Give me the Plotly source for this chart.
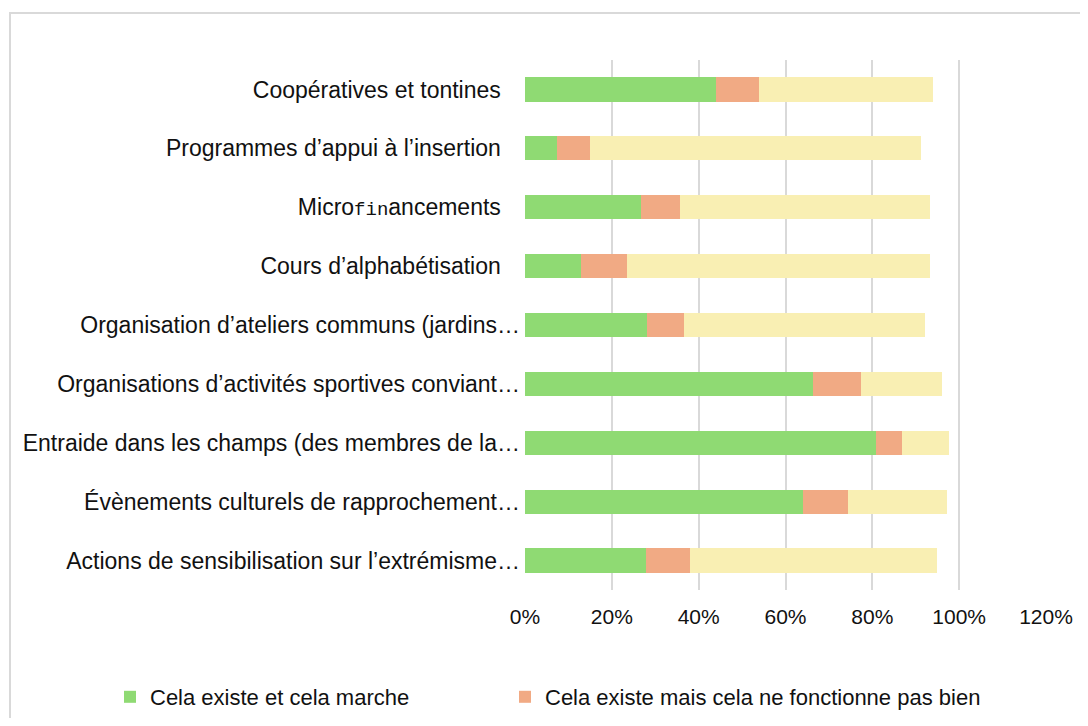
import plotly.graph_objects as go

categories = [
    "Coopératives et tontines\u00a0\u00a0\u00a0",
    "Programmes d’appui à l’insertion\u00a0\u00a0\u00a0",
    "Micro<span style='font-family:Liberation Mono;font-size:19px'>fin</span>ancements\u00a0\u00a0\u00a0",
    "Cours d’alphabétisation\u00a0\u00a0\u00a0",
    "Organisation d’ateliers communs (jardins…",
    "Organisations d’activités sportives conviant…",
    "Entraide dans les champs (des membres de la…",
    "Évènements culturels de rapprochement…",
    "Actions de sensibilisation sur l’extrémisme…",
]

series_names = [
    "Cela existe et cela marche",
    "Cela existe mais cela ne fonctionne pas bien",
    "Cela n’existe pas",
]
green_vals = [0.439, 0.074, 0.267, 0.129, 0.280, 0.663, 0.809, 0.641, 0.278]
orange_vals = [0.099, 0.075, 0.089, 0.105, 0.086, 0.112, 0.060, 0.104, 0.101]
yellow_vals = [0.402, 0.764, 0.577, 0.699, 0.556, 0.186, 0.108, 0.227, 0.570]

colors = ["#8FDA73", "#F1AA84", "#F9EFB3"]
tick_vals = [0, 0.2, 0.4, 0.6, 0.8, 1.0, 1.2]
tick_text = ["0%", "20%", "40%", "60%", "80%", "100%", "120%"]

W, H = 1072, 710
L, T = 517, 52
R = W - 1038
B = H - 582
pw = W - L - R
ph = H - T - B
fx = lambda px: (px - L) / pw
fy = lambda py: 1 - (py - T) / ph

fig = go.Figure()
legend_ids = ["legend", "legend2", None]
for name, vals, col, lg in zip(series_names, [green_vals, orange_vals, yellow_vals], colors, legend_ids):
    fig.add_trace(go.Bar(
        y=categories, x=vals, name=name, orientation="h",
        marker=dict(color=col, line=dict(width=0)),
        showlegend=lg is not None,
        legend=lg if lg else "legend",
    ))

legend_common = dict(
    orientation="h", xref="container", yref="container",
    y=1 - 689 / H, xanchor="left", yanchor="middle",
    font=dict(size=22, color="#111"), itemwidth=30,
    bgcolor="rgba(0,0,0,0)",
)

fig.update_layout(
    width=W, height=H,
    barmode="stack",
    bargap=0.59,
    margin=dict(l=L, r=R, t=T, b=B),
    paper_bgcolor="white",
    plot_bgcolor="white",
    font=dict(family="Liberation Sans, Arial, sans-serif", size=21, color="#111"),
    xaxis=dict(
        range=[0, 1.2], tickvals=tick_vals, ticktext=tick_text,
        showgrid=True, gridcolor="#d9d9d9", gridwidth=2,
        zeroline=False, showline=False, ticks="",
        tickfont=dict(size=21), ticklabelstandoff=12,
        automargin=False,
    ),
    yaxis=dict(
        autorange="reversed", showgrid=False, ticks="", showline=False,
        tickfont=dict(size=23), automargin=False, ticklabelstandoff=4,
    ),
    legend=dict(x=102 / W, **legend_common),
    legend2=dict(x=497 / W, **legend_common),
    shapes=[
        dict(type="path", xref="paper", yref="paper",
             path=f"M {fx(2)} {fy(740)} L {fx(2)} {fy(5)} L {fx(1100)} {fy(5)}",
             line=dict(color="#d9d9d9", width=2)),
    ],
)

fig.write_html("out.html")
